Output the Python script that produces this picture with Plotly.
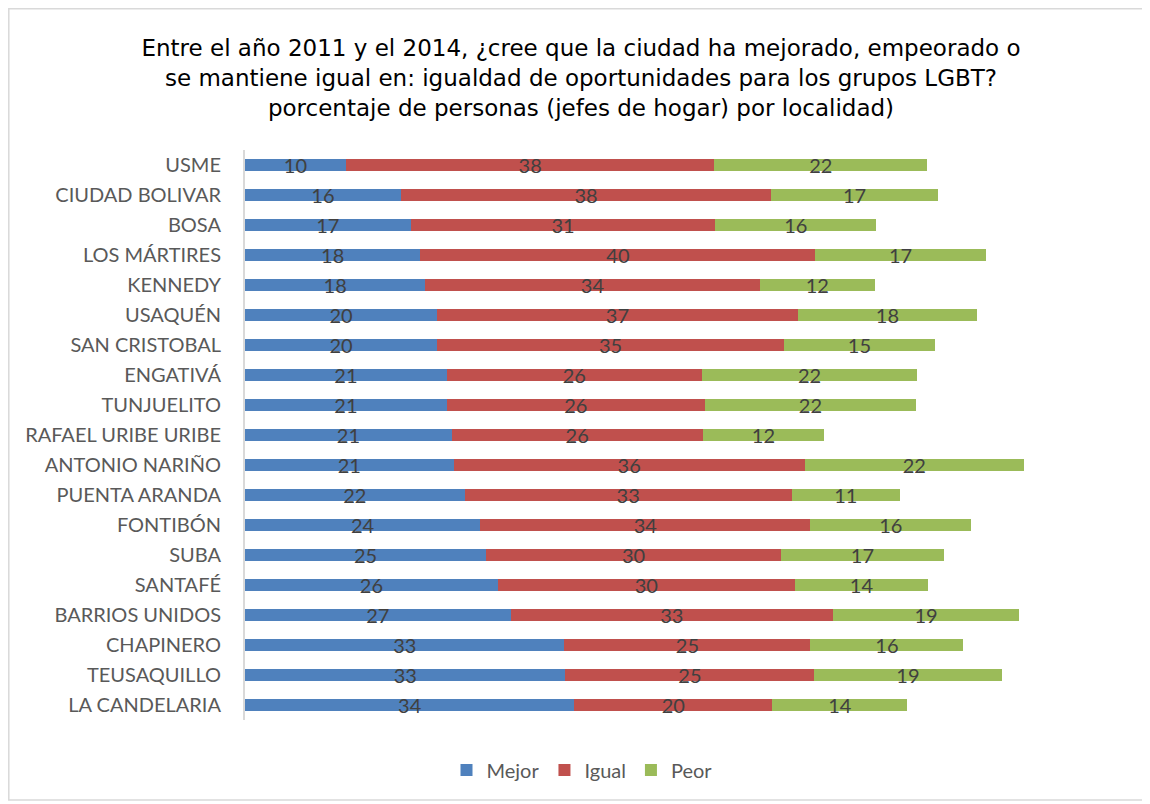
import numpy as np
import plotly.graph_objects as go

localidades = ["USME", "CIUDAD BOLIVAR", "BOSA", "LOS MÁRTIRES", "KENNEDY", "USAQUÉN",
               "SAN CRISTOBAL", "ENGATIVÁ", "TUNJUELITO", "RAFAEL URIBE URIBE",
               "ANTONIO NARIÑO", "PUENTA ARANDA", "FONTIBÓN", "SUBA", "SANTAFÉ",
               "BARRIOS UNIDOS", "CHAPINERO", "TEUSAQUILLO", "LA CANDELARIA"]
mejor = [10.3, 15.9, 16.9, 17.9, 18.4, 19.6, 19.6, 20.6, 20.6, 21.1,
         21.3, 22.4, 24.0, 24.6, 25.8, 27.1, 32.6, 32.7, 33.6]
igual = [37.6, 37.8, 31.1, 40.3, 34.1, 36.8, 35.4, 26.0, 26.3, 25.6,
         35.8, 33.4, 33.7, 30.1, 30.3, 32.9, 25.1, 25.4, 20.2]
peor = [21.7, 17.0, 16.4, 17.4, 11.8, 18.3, 15.4, 22.0, 21.6, 12.4,
        22.4, 11.0, 16.4, 16.6, 13.6, 19.0, 15.6, 19.1, 13.8]

series = [("Mejor", mejor, "#4F81BD"), ("Igual", igual, "#C0504D"), ("Peor", peor, "#9BBB59")]

LABEL_FONT = "Lato, Carlito, Calibri, sans-serif"

fig = go.Figure()
for name, vals, color in series:
    fig.add_trace(go.Bar(
        y=localidades, x=vals, name=name, orientation="h",
        marker=dict(color=color, line=dict(width=0)),
    ))

# data labels at segment centres (on an overlaid index axis, nudged slightly down)
idx = np.arange(len(localidades))
base = np.zeros(len(localidades))
for name, vals, color in series:
    v = np.array(vals)
    fig.add_trace(go.Scatter(
        y=idx, x=base + v / 2, mode="text", yaxis="y2",
        text=[f"{int(round(t))}" for t in v],
        textfont=dict(family=LABEL_FONT, size=20, color="#404040"),
        textposition="middle center",
        showlegend=False, hoverinfo="skip",
    ))
    base = base + v

# the page body adds an 8px offset: positions below are given in page pixels
OFF = 8
W, H = 1142, 796
L = 245 - OFF
T = 150 - OFF
R = W - (1029 - OFF)
B = H - (720 - OFF)
pw, ph = W - L - R, H - T - B
NUDGE = 2.5 / 30.0

def px_x(px):
    return (px - OFF - L) / pw

def px_y(py):
    return (H - B - (py - OFF)) / ph

fig.update_layout(
    width=W, height=H,
    barmode="stack", bargap=0.59,
    paper_bgcolor="white", plot_bgcolor="white",
    margin=dict(l=L, r=R, t=T, b=B, autoexpand=False),
    title=dict(
        text="Entre el año 2011 y el 2014, ¿cree que la ciudad ha mejorado, empeorado o<br>"
             "se mantiene igual en: igualdad de oportunidades para los grupos LGBT?<br>"
             "porcentaje de personas (jefes de hogar) por localidad)",
        font=dict(family="DejaVu Sans, Arial, sans-serif", size=23, color="#000000"),
        x=(581 - OFF) / W, xref="container", xanchor="center",
        y=1 - 48 / H, yref="container", yanchor="top",
    ),
    xaxis=dict(range=[0, 80], visible=False, fixedrange=True),
    yaxis=dict(
        range=[18.5, -0.5], showgrid=False, zeroline=False,
        showline=True, linecolor="#D9D9D9", linewidth=2,
        ticks="", ticklabelstandoff=18,
        tickfont=dict(family=LABEL_FONT, size=20, color="#595959"),
    ),
    yaxis2=dict(
        overlaying="y", range=[18.5 - NUDGE, -0.5 - NUDGE], visible=False,
    ),
    legend=dict(
        orientation="h", x=px_x(582), xanchor="center", y=px_y(770), yanchor="middle",
        font=dict(family=LABEL_FONT, size=20, color="#595959"),
        itemwidth=30, traceorder="normal",
    ),
    showlegend=True,
    shapes=[dict(
        type="rect", xref="paper", yref="paper",
        x0=px_x(8.8), x1=px_x(1143), y0=px_y(800), y1=px_y(8.8),
        line=dict(color="#D9D9D9", width=1.5), fillcolor="rgba(0,0,0,0)", layer="below",
    )],
)

fig.write_html("out.html")
